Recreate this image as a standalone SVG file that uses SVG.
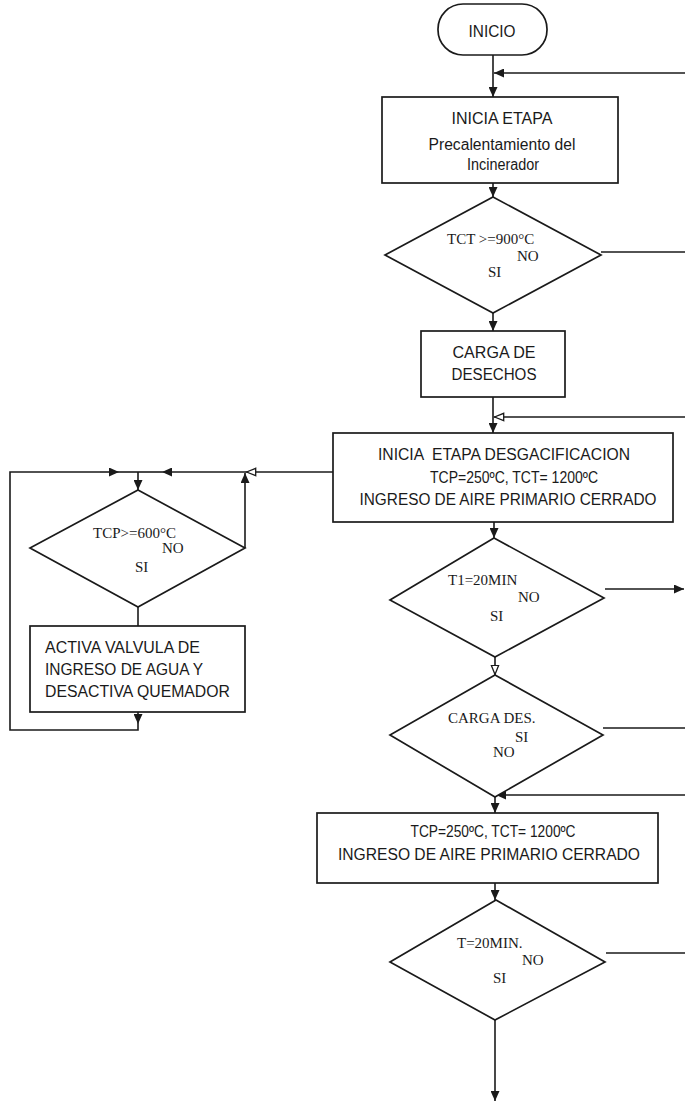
<svg xmlns="http://www.w3.org/2000/svg" width="685" height="1109" viewBox="0 0 685 1109">
<defs>
<style>
.n{fill:#fff;stroke:#1a1a1a;stroke-width:1.7}
.c{fill:none;stroke:#1a1a1a;stroke-width:1.6}
.a{marker-end:url(#af)}
.o{marker-end:url(#ao)}
.s{font-family:"Liberation Sans",Arial,sans-serif;font-size:16px;fill:#1a1a1a}
.t{font-family:"Liberation Serif","Times New Roman",serif;font-size:15px;fill:#1a1a1a}
</style>
<marker id="af" markerUnits="userSpaceOnUse" markerWidth="11" markerHeight="9" refX="10" refY="4.5" orient="auto"><path d="M0,0 L10,4.5 L0,9 z" fill="#1a1a1a"/></marker>
<marker id="ao" markerUnits="userSpaceOnUse" markerWidth="12" markerHeight="10" refX="10.5" refY="4.5" orient="auto"><path d="M0.8,0.8 L10,4.5 L0.8,8.2 z" fill="#fff" stroke="#1a1a1a" stroke-width="1.3"/></marker>
</defs>
<rect width="685" height="1109" fill="#fff"/>
<g id="connectors">
<path class="c a" d="M493,55 V97"/>
<path class="c a" d="M685,73 H494"/>
<path class="c a" d="M493,183 V197"/>
<path class="c" d="M601,252 H685"/>
<path class="c a" d="M493,313 V331"/>
<path class="c a" d="M493,397 V433"/>
<path class="c o" d="M685,417 H494"/>
<path class="c o" d="M333,472 H246"/>
<path class="c a" d="M246,472 H162"/>
<path class="c" d="M162,472 H138"/>
<path class="c a" d="M245,548 V473"/>
<path class="c a" d="M138,472 V490"/>
<path class="c" d="M138,607 V626"/>
<path class="c a" d="M138,712 V724"/>
<path class="c" d="M138,724 V730 H10 V472 H100"/>
<path class="c a" d="M100,472 H119"/>
<path class="c" d="M119,472 H138"/>
<path class="c a" d="M494,522 V538"/>
<path class="c a" d="M605,589 H684"/>
<path class="c o" d="M495,657 V675"/>
<path class="c" d="M603,728 H685"/>
<path class="c a" d="M685,795 H496"/>
<path class="c a" d="M495,797 V813"/>
<path class="c a" d="M495,883 V900"/>
<path class="c" d="M606,953 H685"/>
<path class="c a" d="M495,1020 V1101"/>
</g>
<g id="inicio">
<rect class="n" x="438" y="4" width="109" height="51" rx="25" ry="25"/>
<text class="s" x="492" y="37" text-anchor="middle" textLength="47" lengthAdjust="spacingAndGlyphs">INICIO</text>
</g>
<g id="precalentamiento">
<rect class="n" x="382" y="97" width="236" height="86"/>
<text class="s" x="502" y="124" text-anchor="middle" textLength="101" lengthAdjust="spacingAndGlyphs">INICIA ETAPA</text>
<text class="s" x="502" y="150" text-anchor="middle" textLength="147" lengthAdjust="spacingAndGlyphs">Precalentamiento del</text>
<text class="s" x="503" y="170" text-anchor="middle" textLength="72" lengthAdjust="spacingAndGlyphs">Incinerador</text>
</g>
<g id="tct900">
<polygon class="n" points="493,197 601,255 493,313 385,255"/>
<text class="t" x="447" y="244">TCT &gt;=900°C</text>
<text class="t" x="517" y="261">NO</text>
<text class="t" x="488" y="277">SI</text>
</g>
<g id="carga">
<rect class="n" x="421" y="331" width="144" height="66"/>
<text class="s" x="494" y="358" text-anchor="middle" textLength="83" lengthAdjust="spacingAndGlyphs">CARGA DE</text>
<text class="s" x="494" y="380" text-anchor="middle" textLength="85" lengthAdjust="spacingAndGlyphs">DESECHOS</text>
</g>
<g id="desgacificacion">
<rect class="n" x="333" y="433" width="340" height="89"/>
<text class="s" x="504" y="460" text-anchor="middle" textLength="252" lengthAdjust="spacingAndGlyphs" xml:space="preserve">INICIA  ETAPA DESGACIFICACION</text>
<text class="s" x="514" y="483" text-anchor="middle" textLength="168" lengthAdjust="spacingAndGlyphs">TCP=250ºC, TCT= 1200ºC</text>
<text class="s" x="508" y="505" text-anchor="middle" textLength="297" lengthAdjust="spacingAndGlyphs">INGRESO DE AIRE PRIMARIO CERRADO</text>
</g>
<g id="tcp600">
<polygon class="n" points="138,490 245,548 138,607 30,548"/>
<text class="t" x="93" y="538">TCP&gt;=600°C</text>
<text class="t" x="162" y="553">NO</text>
<text class="t" x="135" y="572">SI</text>
</g>
<g id="valvula">
<rect class="n" x="30" y="626" width="215" height="86"/>
<text class="s" x="45" y="653" textLength="155" lengthAdjust="spacingAndGlyphs">ACTIVA VALVULA DE</text>
<text class="s" x="45" y="675" textLength="158" lengthAdjust="spacingAndGlyphs">INGRESO DE AGUA Y</text>
<text class="s" x="45" y="697" textLength="185" lengthAdjust="spacingAndGlyphs">DESACTIVA QUEMADOR</text>
</g>
<g id="t1">
<polygon class="n" points="494,538 604,598 495,657 390,600"/>
<text class="t" x="448" y="585">T1=20MIN</text>
<text class="t" x="518" y="602">NO</text>
<text class="t" x="490" y="621">SI</text>
</g>
<g id="cargades">
<polygon class="n" points="495,675 603,735 495,797 390,735"/>
<text class="t" x="448" y="723">CARGA DES.</text>
<text class="t" x="515" y="742">SI</text>
<text class="t" x="493" y="757">NO</text>
</g>
<g id="etapa2">
<rect class="n" x="317" y="813" width="341" height="70"/>
<text class="s" x="493" y="837" text-anchor="middle" textLength="165" lengthAdjust="spacingAndGlyphs">TCP=250ºC, TCT= 1200ºC</text>
<text class="s" x="489" y="860" text-anchor="middle" textLength="302" lengthAdjust="spacingAndGlyphs">INGRESO DE AIRE PRIMARIO CERRADO</text>
</g>
<g id="t20">
<polygon class="n" points="496,900 605,962 495,1020 390,962"/>
<text class="t" x="457" y="948">T=20MIN.</text>
<text class="t" x="522" y="965">NO</text>
<text class="t" x="493" y="983">SI</text>
</g>
</svg>
